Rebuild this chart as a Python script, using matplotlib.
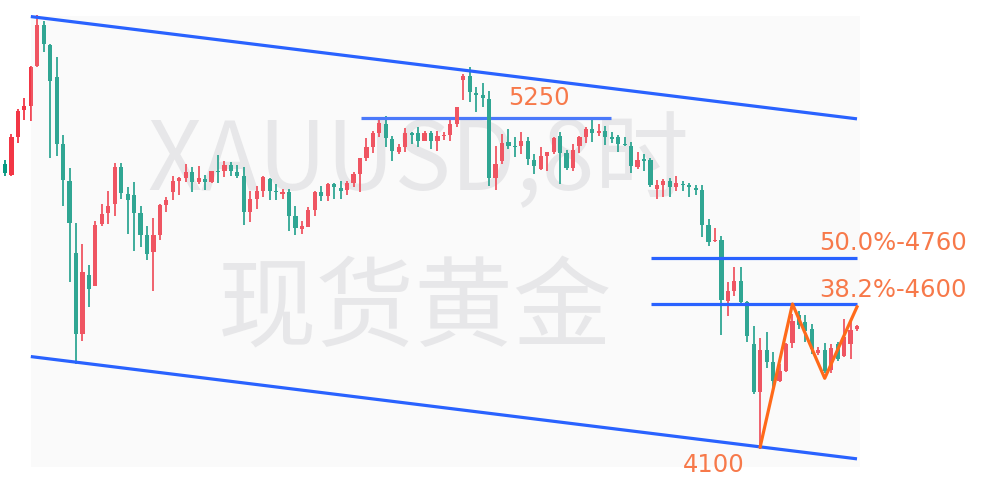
import numpy as np
import matplotlib
matplotlib.use("Agg")
import matplotlib.pyplot as plt
from matplotlib.patches import Rectangle

# 8h candles, XAUUSD
opens = [5090, 5052, 5184, 5279, 5293, 5433, 5576, 5506, 5394, 5160,
         5030, 4778, 4495, 4701, 4663, 4880, 4918, 4950, 5079, 4985,
         4981, 4918, 4841, 4782, 4841, 4946, 4992, 5030, 5041, 5062,
         5027, 5037, 5027, 5065, 5065, 5086, 5062, 5048, 4922, 4967,
         4995, 5037, 4995, 4985, 4992, 4908, 4862, 4870, 4929, 4992,
         4978, 5020, 5006, 4999, 5023, 5055, 5111, 5150, 5199, 5230,
         5178, 5132, 5150, 5199, 5199, 5171, 5199, 5171, 5188, 5191,
         5230, 5384, 5398, 5338, 5332, 5318, 5041, 5100, 5167, 5153,
         5153, 5171, 5104, 5072, 5118, 5132, 5188, 5129, 5076, 5153,
         5184, 5212, 5199, 5206, 5184, 5184, 5160, 5153, 5079, 5107,
         5104, 5002, 5016, 5030, 5009, 5020, 5016, 5006, 4999, 4876,
         4820, 4824, 4610, 4645, 4680, 4607, 4460, 4292, 4439, 4397,
         4330, 4365, 4463, 4561, 4537, 4512, 4428, 4439, 4369, 4460,
         4418, 4460, 4512]
highs = [5104, 5195, 5282, 5321, 5433, 5611, 5590, 5510, 5464, 5191,
         5076, 4883, 4810, 4736, 4890, 4950, 4995, 5093, 5093, 5009,
         5027, 4943, 4873, 4901, 4950, 4974, 5048, 5044, 5090, 5079,
         5083, 5051, 5065, 5121, 5100, 5097, 5086, 5079, 4995, 5013,
         5048, 5041, 5020, 5002, 5002, 4943, 4890, 4940, 4995, 5013,
         5023, 5023, 5030, 5030, 5062, 5111, 5181, 5206, 5248, 5258,
         5188, 5160, 5216, 5202, 5220, 5206, 5206, 5206, 5202, 5244,
         5290, 5405, 5430, 5360, 5374, 5346, 5153, 5195, 5212, 5184,
         5202, 5184, 5125, 5150, 5132, 5184, 5202, 5139, 5160, 5188,
         5220, 5244, 5230, 5223, 5202, 5191, 5184, 5167, 5132, 5125,
         5111, 5034, 5037, 5041, 5048, 5030, 5023, 5016, 5016, 4897,
         4866, 4838, 4677, 4729, 4729, 4610, 4523, 4481, 4502, 4432,
         4390, 4463, 4565, 4575, 4561, 4530, 4449, 4463, 4460, 4467,
         4547, 4540, 4526]
lows = [5048, 5048, 5163, 5244, 5240, 5429, 5482, 5111, 5118, 4943,
        4677, 4390, 4470, 4589, 4663, 4873, 4880, 4908, 4967, 4845,
        4785, 4799, 4754, 4645, 4824, 4922, 4964, 4981, 5027, 4992,
        5020, 4999, 5023, 5023, 5044, 5048, 5041, 4876, 4887, 4932,
        4974, 4964, 4964, 4967, 4855, 4841, 4845, 4870, 4908, 4960,
        4960, 4967, 4967, 4981, 5009, 4992, 5100, 5129, 5184, 5150,
        5100, 5125, 5132, 5160, 5150, 5171, 5143, 5136, 5174, 5171,
        5220, 5314, 5307, 5272, 5290, 5013, 4999, 5090, 5143, 5114,
        5125, 5086, 5055, 5069, 5065, 5125, 5020, 5069, 5065, 5129,
        5163, 5167, 5188, 5157, 5163, 5132, 5153, 5058, 5072, 5065,
        5009, 4967, 4974, 4974, 4995, 4995, 4974, 4981, 4834, 4803,
        4817, 4491, 4558, 4628, 4603, 4467, 4285, 4092, 4376, 4306,
        4327, 4362, 4446, 4512, 4467, 4425, 4421, 4358, 4358, 4400,
        4414, 4407, 4505]
closes = [5058, 5184, 5275, 5293, 5429, 5576, 5510, 5380, 5160, 5034,
          4883, 4495, 4712, 4652, 4876, 4915, 4943, 5079, 4988, 4964,
          4918, 4841, 4775, 4841, 4946, 4964, 5030, 5041, 5062, 5027,
          5041, 5027, 5065, 5062, 5086, 5065, 5048, 4922, 4967, 4995,
          5044, 4995, 4992, 4992, 4908, 4866, 4873, 4929, 4992, 4978,
          5020, 5009, 4995, 5023, 5055, 5111, 5150, 5199, 5234, 5181,
          5136, 5150, 5199, 5191, 5171, 5199, 5171, 5188, 5191, 5230,
          5290, 5398, 5342, 5332, 5321, 5041, 5090, 5163, 5153, 5150,
          5171, 5107, 5083, 5118, 5132, 5181, 5129, 5076, 5139, 5184,
          5212, 5199, 5206, 5186, 5178, 5160, 5155, 5083, 5104, 5100,
          5016, 5016, 5030, 5009, 5023, 5016, 5009, 4999, 4876, 4817,
          4824, 4614, 4645, 4680, 4607, 4488, 4292, 4439, 4397, 4330,
          4365, 4460, 4540, 4526, 4505, 4442, 4439, 4365, 4446, 4407,
          4484, 4509, 4523]

# drawings: channel, levels, zigzag
channel_x = [4.0, 132.0]
channel_top = [5606, 5248]
channel_bottom = [4416, 4058]
level_5250 = 5250
fib_levels = [4760, 4600]
zigzag_x = [117, 122, 127, 132]
zigzag_y = [4100, 4600, 4340, 4590]

UP = "#f23645"
DOWN = "#089981"
BLUE = "#2962ff"
ORANGE = "#ff6a1a"
LABEL = "#f7794a"
WATER = "#e8e8ea"
CJK = ["Noto Sans CJK SC", "DejaVu Sans"]

fig = plt.figure(figsize=(9.99, 4.89), dpi=100)
ax = fig.add_axes([0, 0, 1, 1])
ax.set_xlim(-0.775, 154.0)
ax.set_ylim(3956, 5667.5)
ax.axis("off")

# watermark
ax.text(0.419, 0.612, "XAUUSD,8时", transform=ax.transAxes,
        fontsize=68, color=WATER, ha="center", va="baseline",
        family=CJK, fontweight="light", zorder=0)
ax.text(0.415, 0.366, "现货黄金", transform=ax.transAxes,
        fontsize=71, color=WATER, ha="center", va="center",
        family=CJK, fontweight="light", zorder=0)

o = np.array(opens, dtype=float)
h = np.array(highs, dtype=float)
l = np.array(lows, dtype=float)
c = np.array(closes, dtype=float)
idx = np.arange(len(o))
cols = np.where(c >= o, UP, DOWN)

ax.vlines(idx, l, h, colors=cols, linewidth=1.3, zorder=2)
bottoms = np.minimum(o, c)
heights = np.maximum(np.abs(c - o), 3.0)
ax.bar(idx, heights, bottom=bottoms, width=0.66, color=cols,
       linewidth=0, zorder=3)

# light overlay of the channel drawing box
ax.add_patch(Rectangle((channel_x[0] + 0.03, 4028), channel_x[1] - channel_x[0] + 0.4,
                       5608 - 4028, facecolor="#e6e6e6", alpha=0.18,
                       edgecolor="none", zorder=4))

ax.plot(channel_x, channel_top, color=BLUE, lw=2.3, zorder=5,
        solid_capstyle="butt")
ax.plot(channel_x, channel_bottom, color=BLUE, lw=2.3, zorder=5,
        solid_capstyle="butt")
ax.hlines(level_5250, 55.2, 93.9, color=BLUE, lw=2.3, zorder=2.5)
ax.hlines(fib_levels, 100.1, 132.0, color=BLUE, lw=2.3, zorder=5)
ax.plot(zigzag_x, zigzag_y, color=ORANGE, lw=2.3, zorder=6)

ax.text(82.7, 5325, "5250", color=LABEL, fontsize=17.5,
        ha="center", va="center", zorder=7)
ax.text(137.6, 4817, "50.0%-4760", color=LABEL, fontsize=17.5,
        ha="center", va="center", zorder=7)
ax.text(137.6, 4652, "38.2%-4600", color=LABEL, fontsize=17.5,
        ha="center", va="center", zorder=7)
ax.text(109.8, 4040, "4100", color=LABEL, fontsize=17.5,
        ha="center", va="center", zorder=7)

fig.savefig("out.png", dpi=100, facecolor="white")
